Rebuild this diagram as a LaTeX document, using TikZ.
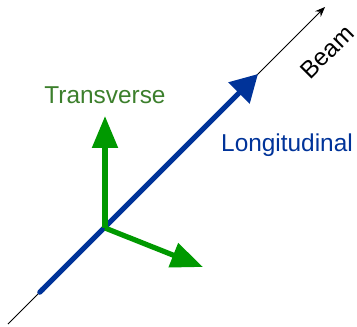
\documentclass[tikz,border=0pt]{standalone}
\usepackage{fontspec}
\setmainfont{Liberation Sans}
\usetikzlibrary{arrows.meta}
\definecolor{beamblue}{HTML}{003399}
\definecolor{transgreen}{HTML}{009900}
\definecolor{labelgreen}{HTML}{3C7F2C}
\begin{document}
\begin{tikzpicture}[x=0.5pt, y=0.5pt,
    every node/.style={font=\fontsize{12.2}{14}\selectfont},
    beamline/.style={line width=0.5pt, -{Stealth[length=5pt, width=4pt]}},
    longarrow/.style={beamblue, line width=2.6pt, {Round Cap}-{Triangle[length=13.5pt, width=14.5pt]}},
    transarrow/.style={transgreen, line width=2.6pt, -{Triangle[length=16pt, width=12.5pt]}}]
  \useasboundingbox (0,0) rectangle (357,326);

  % points
  \coordinate (beamstart) at (8,2);
  \coordinate (beamend) at (325,319);
  \coordinate (longstart) at (38,32);
  \coordinate (longtip) at (258,252);
  \coordinate (origin) at (105,98);
  \coordinate (uptip) at (105,210);
  \coordinate (sidetip) at (203,59);

  % beam axis
  \draw[beamline] (beamstart) -- (beamend);
  \node[rotate=45] (beam) at (327,274) {Beam};

  % longitudinal direction
  \draw[longarrow] (longstart) -- (longtip);
  \node[text=beamblue] (long) at (287,181) {Longitudinal};

  % transverse directions
  \draw[transarrow] (origin) -- (uptip);
  \draw[transarrow] (origin) -- (sidetip);
  \node[text=labelgreen] (trans) at (105,231) {Transverse};
\end{tikzpicture}
\end{document}
